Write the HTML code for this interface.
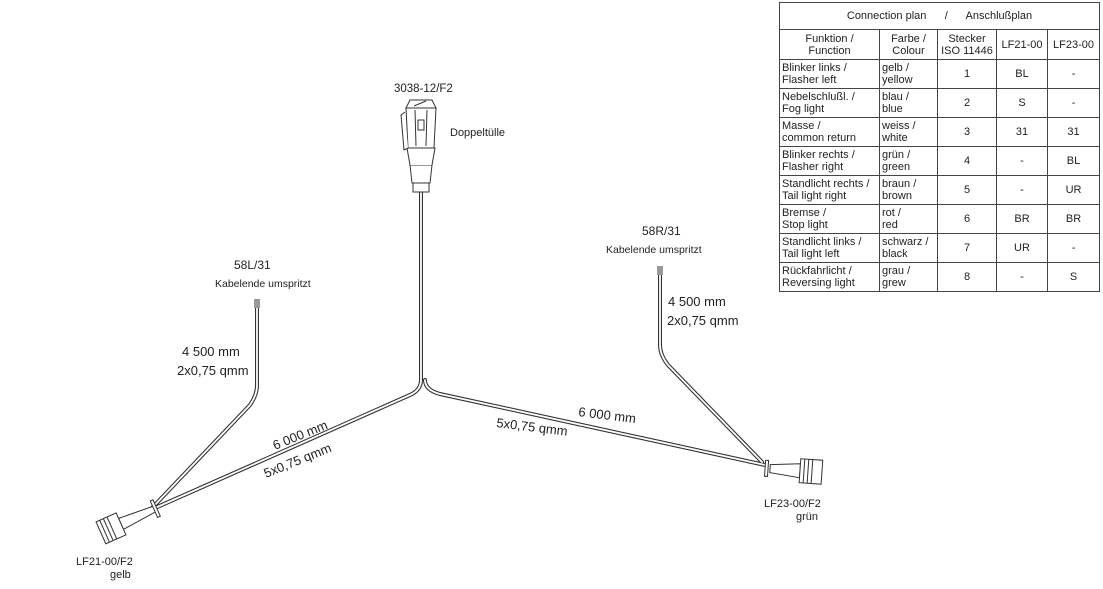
<!DOCTYPE html>
<html><head><meta charset="utf-8"><style>
body{margin:0;background:#fff;width:1103px;height:589px;overflow:hidden;font-family:"Liberation Sans",sans-serif;}
svg{position:absolute;left:0;top:0}
text{font-family:"Liberation Sans",sans-serif;fill:#222}
table{position:absolute;left:779px;top:2px;width:320px;border-collapse:collapse;table-layout:fixed;font-size:11px;color:#222;line-height:12px;white-space:nowrap}
td{border:1px solid #444;padding:0 2px;height:28px;vertical-align:middle;overflow:hidden}
.c{text-align:center}
</style></head><body>
<svg width="1103" height="589" viewBox="0 0 1103 589">
<g fill="none" stroke-linecap="round" stroke-linejoin="round">
<g stroke="#333" stroke-width="4">
<path d="M421 190 L421 380 Q421 390 410 395 L155 508"/>
<path d="M425 380 Q425 390 440 394 L765 465"/>
<path d="M257 308 L257 385 Q257 395 250 405 L152 508"/>
<path d="M660 272 L660 345 Q660 355 668 365 L762 462"/>
</g>
<g stroke="#fff" stroke-width="1.8">
<path d="M421 190 L421 380 Q421 390 410 395 L155 508"/>
<path d="M425 380 Q425 390 440 394 L765 465"/>
<path d="M257 308 L257 385 Q257 395 250 405 L152 508"/>
<path d="M660 272 L660 345 Q660 355 668 365 L762 462"/>
</g>
</g>
<rect x="254" y="299" width="6" height="9" fill="#999"/>
<rect x="657" y="266" width="6" height="9" fill="#999"/>
<g stroke="#333" stroke-width="1" fill="#fff">
<path d="M413 183 L413 192 L429 192 L429 183"/>
<path d="M410 165 L432 165 L430 183 L412 183 Z"/>
<path d="M410 165 L407 148 L435 148 L432 165"/>
<path d="M408 148 L406 108 L436 108 L434 148 Z"/>
<path d="M410 100 L432 100 L436 108 L406 108 Z"/>
<path d="M405 112 L401 115 L404 150 L408 148"/>
<line x1="415" y1="110" x2="416" y2="146"/>
<line x1="427" y1="110" x2="426" y2="146"/>
<rect x="418" y="120" width="6" height="10"/>
<line x1="414" y1="106" x2="426" y2="101"/>
</g>
<g transform="translate(132,519) rotate(-24)" stroke="#333" stroke-width="1" fill="#fff">
<path d="M-12 -6 L25 -3 L25 3 L-12 6 Z"/>
<rect x="24" y="-9" width="3" height="18"/>
<rect x="-34" y="-12" width="22" height="24"/>
<line x1="-30" y1="-12" x2="-30" y2="12"/><line x1="-26" y1="-12" x2="-26" y2="12"/><line x1="-22" y1="-12" x2="-22" y2="12"/>
</g>
<g transform="translate(790,470) rotate(4)" stroke="#333" stroke-width="1" fill="#fff">
<path d="M-20 -4 L10 -7 L10 7 L-20 4 Z"/>
<rect x="-25" y="-8" width="3" height="16"/>
<rect x="10" y="-12" width="22" height="24"/>
<line x1="14" y1="-12" x2="14" y2="12"/><line x1="18" y1="-12" x2="18" y2="12"/><line x1="22" y1="-12" x2="22" y2="12"/>
</g>
<text x="394" y="92" font-size="11.5">3038-12/F2</text>
<text x="450" y="136" font-size="11">Doppeltülle</text>
<text x="234" y="269" font-size="12">58L/31</text>
<text x="215" y="287" font-size="10.5">Kabelende umspritzt</text>
<text x="182" y="356" font-size="13">4 500 mm</text>
<text x="177" y="375" font-size="13">2x0,75 qmm</text>
<text x="642" y="235" font-size="12">58R/31</text>
<text x="606" y="253" font-size="10.5">Kabelende umspritzt</text>
<text x="668" y="306" font-size="13">4 500 mm</text>
<text x="667" y="325" font-size="13">2x0,75 qmm</text>
<text transform="translate(275,450) rotate(-22)" font-size="13">6 000 mm</text>
<text transform="translate(266,478) rotate(-22)" font-size="13">5x0,75 qmm</text>
<text transform="translate(578,416) rotate(7)" font-size="13">6 000 mm</text>
<text transform="translate(496,427) rotate(7)" font-size="13">5x0,75 qmm</text>
<text x="76" y="565" font-size="11">LF21-00/F2</text>
<text x="110" y="578" font-size="11">gelb</text>
<text x="764" y="507" font-size="11">LF23-00/F2</text>
<text x="796" y="520" font-size="11">grün</text>
</svg>
<table>
<colgroup><col style="width:100px"><col style="width:58px"><col style="width:59px"><col style="width:51px"><col style="width:52px"></colgroup>
<tr><td colspan="5" class="c" style="height:26px">Connection plan &nbsp;&nbsp;&nbsp;&nbsp; / &nbsp;&nbsp;&nbsp;&nbsp; Anschlußplan</td></tr>
<tr><td class="c" style="height:29px">Funktion /<br>Function</td><td class="c">Farbe /<br>Colour</td><td class="c" style="padding:0">Stecker<br>ISO 11446</td><td class="c" style="padding:0">LF21-00</td><td class="c" style="padding:0">LF23-00</td></tr>
<tr><td>Blinker links /<br>Flasher left</td><td>gelb /<br>yellow</td><td class="c">1</td><td class="c">BL</td><td class="c">-</td></tr>
<tr><td>Nebelschlußl. /<br>Fog light</td><td>blau /<br>blue</td><td class="c">2</td><td class="c">S</td><td class="c">-</td></tr>
<tr><td>Masse /<br>common return</td><td>weiss /<br>white</td><td class="c">3</td><td class="c">31</td><td class="c">31</td></tr>
<tr><td>Blinker rechts /<br>Flasher right</td><td>grün /<br>green</td><td class="c">4</td><td class="c">-</td><td class="c">BL</td></tr>
<tr><td>Standlicht rechts /<br>Tail light right</td><td>braun /<br>brown</td><td class="c">5</td><td class="c">-</td><td class="c">UR</td></tr>
<tr><td>Bremse /<br>Stop light</td><td>rot /<br>red</td><td class="c">6</td><td class="c">BR</td><td class="c">BR</td></tr>
<tr><td>Standlicht links /<br>Tail light left</td><td>schwarz /<br>black</td><td class="c">7</td><td class="c">UR</td><td class="c">-</td></tr>
<tr><td>Rückfahrlicht /<br>Reversing light</td><td>grau /<br>grew</td><td class="c">8</td><td class="c">-</td><td class="c">S</td></tr>
</table>
</body></html>
